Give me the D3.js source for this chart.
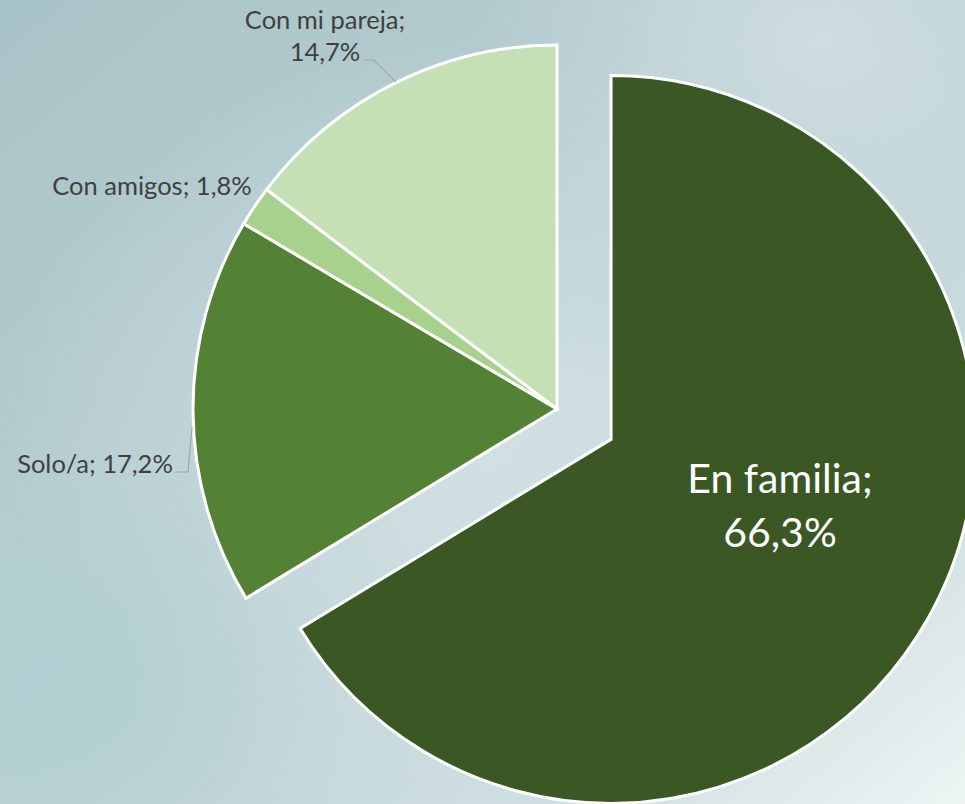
<!DOCTYPE html>
<html><head><meta charset="utf-8">
<script src="https://cdn.jsdelivr.net/npm/d3@7"></script>
<style>html,body{margin:0;padding:0;overflow:hidden;}svg{display:block;}</style>
</head><body>
<svg id="c" width="965" height="804"></svg>
<script>
const categories = ["En familia", "Solo/a", "Con amigos", "Con mi pareja"];
const values = [66.3, 17.2, 1.8, 14.7];
const labels = ["En familia;\n66,3%", "Solo/a; 17,2%", "Con amigos; 1,8%", "Con mi pareja;\n14,7%"];
const colors = ["#3a5724", "#548235", "#a9d18e", "#c5e0b4"];

const W = 965, H = 804;
const svg = d3.select("#c");
const defs = svg.append("defs");
const lg = defs.append("linearGradient").attr("id","bg").attr("x1","0").attr("y1","0").attr("x2","1").attr("y2","1");
lg.append("stop").attr("offset","0").attr("stop-color","#a8c3c7");
lg.append("stop").attr("offset","0.45").attr("stop-color","#b9cfd3");
lg.append("stop").attr("offset","0.8").attr("stop-color","#d0dfe1");
lg.append("stop").attr("offset","1").attr("stop-color","#eef4f4");
svg.append("rect").attr("width",W).attr("height",H).attr("fill","url(#bg)");
const rg = defs.append("radialGradient").attr("id","glow").attr("cx","0.5").attr("cy","0.55").attr("r","0.5");
rg.append("stop").attr("offset","0").attr("stop-color","#d6e3e6").attr("stop-opacity","0.8");
rg.append("stop").attr("offset","1").attr("stop-color","#d6e3e6").attr("stop-opacity","0");
svg.append("rect").attr("width",W).attr("height",H).attr("fill","url(#glow)");
const rg2 = defs.append("radialGradient").attr("id","glow2").attr("cx","0.85").attr("cy","0.05").attr("r","0.35");
rg2.append("stop").attr("offset","0").attr("stop-color","#d0dee1").attr("stop-opacity","0.9");
rg2.append("stop").attr("offset","1").attr("stop-color","#d0dee1").attr("stop-opacity","0");
svg.append("rect").attr("width",W).attr("height",H).attr("fill","url(#glow2)");
const rg3 = defs.append("radialGradient").attr("id","glow3").attr("cx","0.05").attr("cy","0.85").attr("r","0.3");
rg3.append("stop").attr("offset","0").attr("stop-color","#aecfd1").attr("stop-opacity","0.8");
rg3.append("stop").attr("offset","1").attr("stop-color","#aecfd1").attr("stop-opacity","0");
svg.append("rect").attr("width",W).attr("height",H).attr("fill","url(#glow3)");

const cx = 557, cy = 409, R = 364, explode = 62;
const data = categories.map((c,i)=>({cat:c, value:values[i], label:labels[i], color:colors[i], idx:i}));
const pie = d3.pie().sort(null).value(d=>d.value);
const arcs = pie(data);
const arc = d3.arc().innerRadius(0).outerRadius(R);

const g = svg.append("g").attr("transform",`translate(${cx},${cy})`);
g.selectAll("path").data(arcs).join("path")
  .attr("d", arc)
  .attr("fill", d=>d.data.color)
  .attr("stroke", "#ffffff")
  .attr("stroke-width", 3)
  .attr("stroke-linejoin","miter")
  .attr("transform", d=>{
    if (d.index !== 0) return null;
    const m = (d.startAngle + d.endAngle)/2;
    return `translate(${explode*Math.sin(m)},${-explode*Math.cos(m)})`;
  });

const font = "Lato, 'Open Sans', sans-serif";
// big inside label
const bigLines = arcs[0].data.label.split("\n");
const bt = svg.append("text").attr("x", 780).attr("y", 493)
  .attr("text-anchor","middle").attr("fill","#ffffff")
  .style("font-family", font).style("font-size","41px");
bigLines.forEach((t,i)=>bt.append("tspan").attr("x",780).attr("dy", i===0?0:54).text(t));

// outside labels
const lblColor = "#404040";
function outLabel(lines, x, y, anchor){
  const t = svg.append("text").attr("x",x).attr("y",y).attr("text-anchor",anchor)
    .attr("fill",lblColor).style("font-family",font).style("font-size","25.5px");
  lines.forEach((s,i)=>t.append("tspan").attr("x",x).attr("dy", i===0?0:32).text(s));
}
outLabel(arcs[3].data.label.split("\n"), 325, 29, "middle");
outLabel([arcs[2].data.label], 152, 195, "middle");
outLabel([arcs[1].data.label], 95, 473, "middle");

// leader lines
const leader = d3.line();
svg.append("path").attr("d", leader([[363,60],[374,60],[396,82]]))
  .attr("fill","none").attr("stroke","#a6a6a6").attr("stroke-width",1.2);
svg.append("path").attr("d", leader([[175,472],[188,472],[192,427]]))
  .attr("fill","none").attr("stroke","#a6a6a6").attr("stroke-width",1.2);
</script>
</body></html>
